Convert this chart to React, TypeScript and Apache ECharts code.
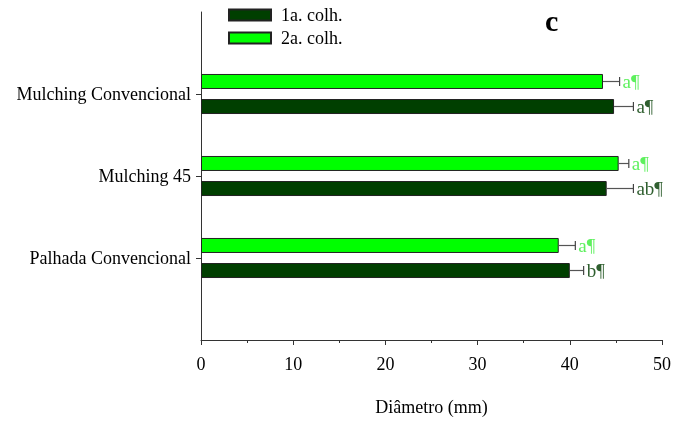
import React, { useEffect, useRef } from 'react';
import * as echarts from 'echarts';

const categories = ['', 'Palhada Convencional', 'Mulching 45', 'Mulching Convencional', ''];
const colheita1 = [40.0, 44.0, 44.8];
const colheita2 = [38.8, 45.3, 43.6];
const erro1 = [1.5, 2.9, 2.1];
const erro2 = [1.8, 1.1, 1.8];
const letras1 = ['b¶', 'ab¶', 'a¶'];
const letras2 = ['a¶', 'a¶', 'a¶'];
const seriesNames = ['1a. colh.', '2a. colh.'];

const FONT = '"Liberation Serif", "Times New Roman", serif';
const DARK = '#003f00';
const LIGHT = '#00ff00';

function barData(vals: number[]) {
  return vals.map((v, i) => [v, i + 1]);
}
function errData(vals: number[], errs: number[]) {
  return vals.map((v, i) => [v, errs[i], i + 1]);
}

function makeErr(offset: number, letters: string[], labelColor: string) {
  return (params: any, api: any) => {
    const val = api.value(0);
    const err = api.value(1);
    const cat = api.value(2);
    const p0 = api.coord([val, cat]);
    const p1 = api.coord([val + err, cat]);
    const y = p0[1] + offset;
    return {
      type: 'group',
      children: [
        { type: 'line', shape: { x1: p0[0], y1: y, x2: p1[0], y2: y }, style: { stroke: '#555', lineWidth: 1.2 } },
        { type: 'line', shape: { x1: p1[0], y1: y - 4.5, x2: p1[0], y2: y + 4.5 }, style: { stroke: '#444', lineWidth: 1.2 } },
        {
          type: 'text',
          x: p1[0] + 3,
          y: y,
          style: {
            text: letters[params.dataIndex],
            fill: labelColor,
            font: `19px ${FONT}`,
            verticalAlign: 'middle',
            align: 'left',
          },
        },
      ],
    };
  };
}

export default function App() {
  const ref = useRef<HTMLDivElement>(null);
  useEffect(() => {
    if (!ref.current) return;
    const chart = echarts.init(ref.current, undefined, { renderer: 'svg' });
    chart.setOption({
      animation: false,
      textStyle: { fontFamily: FONT },
      grid: { left: 201, right: 9, top: 12, bottom: 73, containLabel: false },
      legend: {
        data: seriesNames,
        orient: 'vertical',
        left: 223,
        top: 1,
        itemWidth: 42,
        itemHeight: 11,
        itemGap: 5,
        icon: 'rect',
        textStyle: { fontFamily: FONT, fontSize: 18, color: '#000', padding: [0, 0, 0, 5] },
      },
      graphic: [
        {
          type: 'text',
          left: 545,
          top: 5,
          style: { text: 'c', font: `bold 30px ${FONT}`, fill: '#000' },
        },
      ],
      xAxis: {
        type: 'value',
        min: 0,
        max: 50,
        interval: 10,
        name: 'Diâmetro (mm)',
        nameLocation: 'middle',
        nameGap: 58,
        nameTextStyle: { fontFamily: FONT, fontSize: 18, color: '#000' },
        axisLine: { show: true, lineStyle: { color: '#333' } },
        axisTick: { show: true, length: 5, lineStyle: { color: '#333' } },
        minorTick: { show: true, splitNumber: 2, length: 3, lineStyle: { color: '#333' } },
        splitLine: { show: false },
        axisLabel: { fontFamily: FONT, fontSize: 18, color: '#000', margin: 15 },
      },
      yAxis: {
        type: 'category',
        data: categories,
        boundaryGap: false,
        axisLine: { show: true, lineStyle: { color: '#333' } },
        axisTick: { show: true, length: 5, interval: (i: number, v: string) => v !== '', lineStyle: { color: '#333' } },
        axisLabel: { fontFamily: FONT, fontSize: 18, color: '#000', margin: 10, interval: 0 },
        splitLine: { show: false },
      },
      series: [
        {
          name: seriesNames[1],
          type: 'bar',
          data: barData(colheita2),
          barWidth: 15,
          barGap: '67%',
          itemStyle: { color: LIGHT, borderColor: '#222', borderWidth: 1 },
        },
        {
          name: seriesNames[0],
          type: 'bar',
          data: barData(colheita1),
          barWidth: 15,
          barGap: '67%',
          itemStyle: { color: DARK, borderColor: '#222', borderWidth: 1 },
        },
        {
          type: 'custom',
          name: 'err2',
          data: errData(colheita2, erro2),
          encode: { x: 0, y: 2 },
          renderItem: makeErr(-12.5, letras2, '#5ef05e'),
          z: 5,
        },
        {
          type: 'custom',
          name: 'err1',
          data: errData(colheita1, erro1),
          encode: { x: 0, y: 2 },
          renderItem: makeErr(12.5, letras1, '#2f5f2f'),
          z: 5,
        },
      ],
    });
    return () => chart.dispose();
  }, []);
  return <div ref={ref} style={{ width: 674, height: 421, position: 'fixed', left: 0, top: 0 }} />;
}
